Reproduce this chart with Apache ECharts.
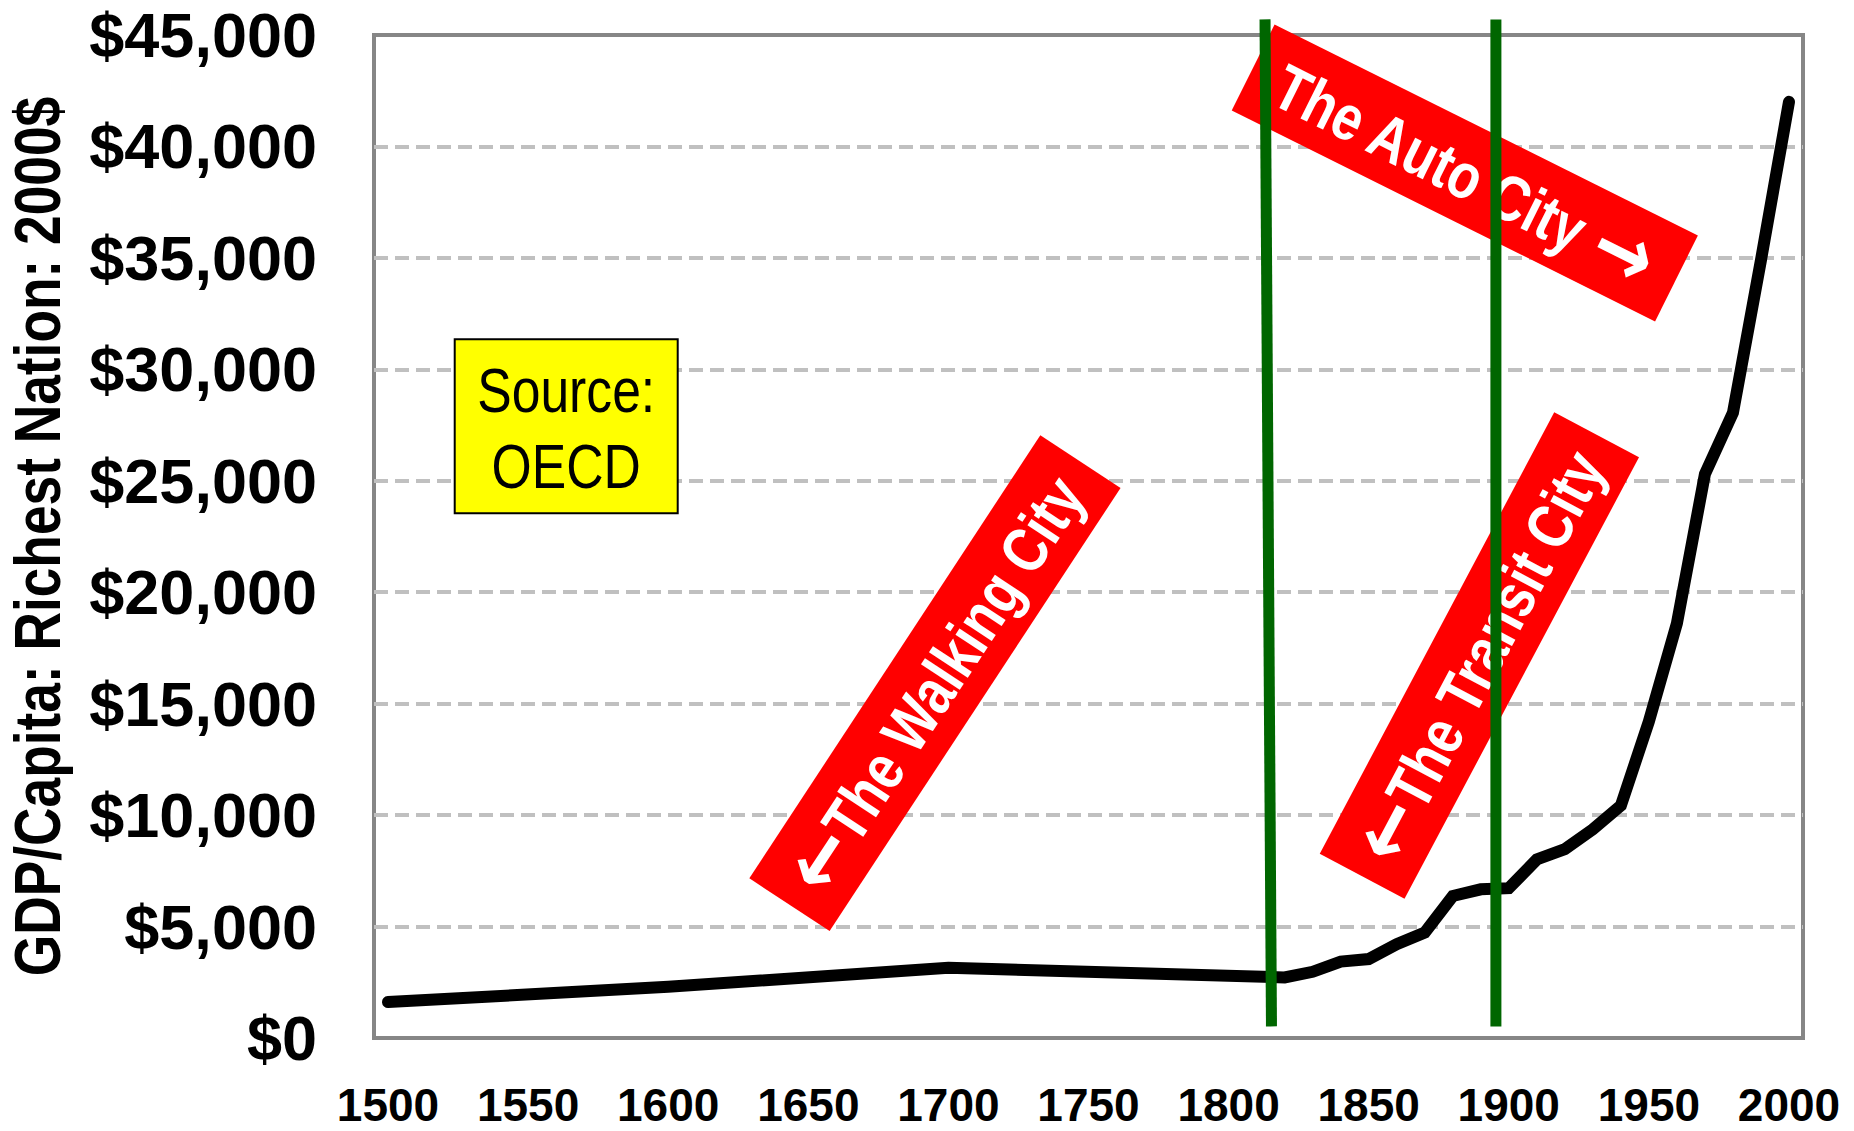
<!DOCTYPE html>
<html>
<head>
<meta charset="utf-8">
<title>GDP per Capita of the Richest Nation, 1500–2000</title>
<script src="https://cdn.jsdelivr.net/npm/echarts@6/dist/echarts.min.js"></script>
<style>
  html, body { margin: 0; padding: 0; background: #ffffff; }
  #chart { width: 1854px; height: 1131px; }
</style>
</head>
<body>
<div id="chart"></div>
<script>
// GDP per capita of the richest nation (2000 dollars), by year
const years = [1500, 1600, 1700, 1820, 1830, 1840, 1850, 1860, 1870, 1880, 1890,
               1900, 1910, 1920, 1930, 1940, 1950, 1960, 1970, 1980, 1990, 2000];
const gdpPerCapita = [1610, 2300, 3150, 2720, 2970, 3430, 3540, 4210, 4730, 6370, 6670,
                      6720, 8010, 8470, 9360, 10430, 14200, 18600, 25300, 28050, 34900, 42000];

// Axis ticks
const xTickYears = [1500, 1550, 1600, 1650, 1700, 1750, 1800, 1850, 1900, 1950, 2000];
const yTickStep = 5000;
const yMax = 45000;

// Era boundaries (hand-drawn vertical rules): [year, value] at the top and bottom
const walkingToTransit = [[1813, 45700], [1815.3, 520]];
const transitToAuto = [[1895.4, 45700], [1895.4, 520]];

// Era banners: text, anchor [year, value], tilt in degrees (counter-clockwise)
const eraLabels = ['{arw|\u2190}The Walking City', '{arw|\u2190}The Transit City', 'The Auto City {arw|\u2192}'];
const eraAnchors = [[1695.2, 15920], [1889.5, 17160], [1884.3, 38810]];
const eraTilts = [56.7, 62.05, -26.5];
const eraLengths = [530, 500, 473];

const yAxisTitle = 'GDP/Capita: Richest Nation: 2000$';
const sourceText = 'Source:\nOECD';
const sourceAnchor = [1563.6, 27445];

const SANS = "'Liberation Sans', Arial, Helvetica, sans-serif";
const ARROW_FONT = "'DejaVu Sans', 'Liberation Sans', sans-serif";
// narrow-face look: regular sans squeezed along the baseline
const NARROW_SCALE = 0.82;

const chart = echarts.init(document.getElementById('chart'), null, { renderer: 'svg' });

function money(v) {
  return '$' + v.toLocaleString('en-US');
}

const boundaryStyle = { color: '#006600', width: 11, cap: 'butt' };

chart.setOption({
  animation: false,
  backgroundColor: '#ffffff',
  grid: {
    left: 374, right: 51, top: 35, bottom: 93,
    show: true,
    borderColor: '#868686',
    borderWidth: 4,
    backgroundColor: 'transparent'
  },
  xAxis: {
    type: 'value',
    min: 1495,
    max: 2005,
    axisLine: { show: false },
    axisTick: { show: false },
    splitLine: { show: false },
    axisLabel: {
      customValues: xTickYears,
      formatter: v => String(v),
      margin: 44,
      color: '#000',
      fontSize: 46,
      lineHeight: 46,
      fontWeight: 'bold',
      fontFamily: SANS
    }
  },
  yAxis: {
    type: 'value',
    min: 0,
    max: yMax,
    interval: yTickStep,
    axisLine: { show: false },
    axisTick: { show: false },
    axisLabel: {
      formatter: money,
      margin: 57,
      color: '#000',
      fontSize: 63,
      fontWeight: 'bold',
      fontFamily: SANS
    },
    splitLine: {
      show: true,
      showMinLine: false,
      showMaxLine: false,
      lineStyle: { color: '#C0C0C0', width: 4, type: [14, 7] }
    }
  },
  series: [
    {
      name: 'GDP per capita',
      type: 'line',
      data: years.map((y, i) => [y, gdpPerCapita[i]]),
      showSymbol: false,
      lineStyle: { color: '#000000', width: 12, cap: 'round', join: 'miter' },
      z: 3
    },
    {
      name: 'Walking / Transit',
      type: 'line',
      data: walkingToTransit,
      showSymbol: false,
      clip: false,
      lineStyle: boundaryStyle,
      z: 4
    },
    {
      name: 'Transit / Auto',
      type: 'line',
      data: transitToAuto,
      showSymbol: false,
      clip: false,
      lineStyle: boundaryStyle,
      z: 4
    }
  ]
});

// Banners and source box are placed from data anchors once the axes exist
const graphics = eraLabels.map((label, i) => {
  const [px, py] = chart.convertToPixel({ gridIndex: 0 }, eraAnchors[i]);
  const w = eraLengths[i], h = 96;
  return {
    type: 'group',
    x: px, y: py,
    rotation: eraTilts[i] * Math.PI / 180,
    z: 100,
    children: [
      { type: 'rect', shape: { x: -w / 2, y: -h / 2, width: w, height: h }, style: { fill: '#FF0000' } },
      {
        type: 'text', x: 0, y: 2,
        scaleX: NARROW_SCALE,
        style: {
          text: label, fill: '#ffffff',
          fontSize: 64, fontWeight: 'bold', fontFamily: SANS,
          align: 'center', verticalAlign: 'middle',
          rich: {
            arw: { fill: '#ffffff', fontSize: 88, fontWeight: 'bold', fontFamily: ARROW_FONT,
                   verticalAlign: 'middle', padding: [0, 0, 6, 0] }
          }
        }
      }
    ]
  };
});

const [sx, sy] = chart.convertToPixel({ gridIndex: 0 }, sourceAnchor);
graphics.push({
  type: 'group',
  x: sx, y: sy,
  z: 100,
  children: [
    { type: 'rect', shape: { x: -111.5, y: -87, width: 223, height: 174 },
      style: { fill: '#FFFF00', stroke: '#000000', lineWidth: 2 } },
    { type: 'text', x: 0, y: 2, scaleX: NARROW_SCALE,
      style: { text: sourceText, fill: '#000000', fontSize: 63, lineHeight: 76,
               fontFamily: SANS, align: 'center', verticalAlign: 'middle' } }
  ]
});

// Vertical value-axis title, centred on the plot height
const gridTop = chart.convertToPixel({ yAxisIndex: 0 }, yMax);
const gridBottom = chart.convertToPixel({ yAxisIndex: 0 }, 0);
graphics.push({
  type: 'text',
  x: 38, y: (gridTop + gridBottom) / 2,
  rotation: Math.PI / 2,
  scaleX: NARROW_SCALE,
  style: {
    text: yAxisTitle, fill: '#000000',
    fontSize: 65, fontWeight: 'bold', fontFamily: SANS,
    align: 'center', verticalAlign: 'middle'
  }
});

chart.setOption({ graphic: graphics });
</script>
</body>
</html>
